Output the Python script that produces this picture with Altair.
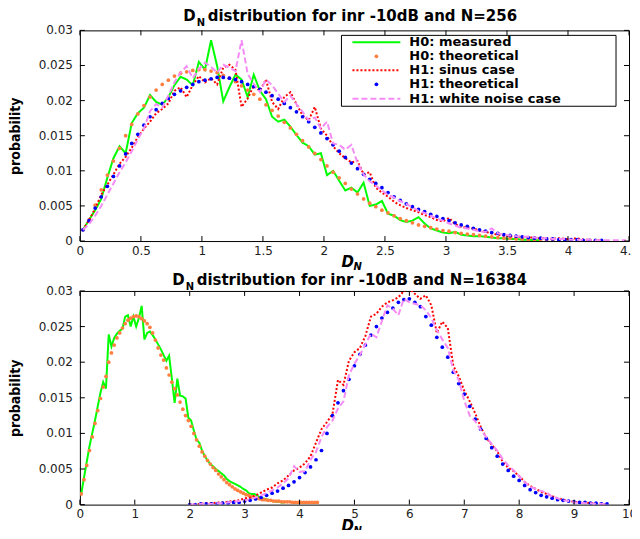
import altair as alt
import pandas as pd

# ---------------- data ----------------
# top panel, N=256 : bin centres start at 0.025, spacing 0.05
top_start, top_step = 0.025, 0.05
top_h0_measured = [0.0016, 0.0030, 0.0044, 0.0060, 0.0090, 0.0118, 0.0135, 0.0125, 0.0168, 0.0182,
                   0.0190, 0.0208, 0.0198, 0.0194, 0.0205, 0.0222, 0.0234, 0.0230, 0.0222, 0.0255,
                   0.0244, 0.0286, 0.0249, 0.0199, 0.0219, 0.0237, 0.0230, 0.0205, 0.0237, 0.0214,
                   0.0202, 0.0177, 0.0170, 0.0173, 0.0163, 0.0151, 0.0140, 0.0135, 0.0123, 0.0125,
                   0.0094, 0.0100, 0.0086, 0.0072, 0.0076, 0.0069, 0.0083, 0.0050, 0.0052, 0.0057,
                   0.0039, 0.0036, 0.0030, 0.0027, 0.0029, 0.0034, 0.0025, 0.0018, 0.0015, 0.0012,
                   0.0011, 0.0013, 0.0009, 0.0008, 0.0007, 0.0007, 0.0006, 0.0005, 0.0004, 0.0004,
                   0.0003, 0.0003, 0.0002, 0.0002, 0.0001, 0.0001]
top_h0_theory = [0.0016, 0.0030, 0.0051, 0.0073, 0.0094, 0.0114, 0.0132, 0.0150, 0.0166, 0.0181,
                 0.0193, 0.0205, 0.0215, 0.0223, 0.0229, 0.0235, 0.0239, 0.0241, 0.0243, 0.0244,
                 0.0244, 0.0242, 0.0240, 0.0236, 0.0232, 0.0227, 0.0221, 0.0215, 0.0209, 0.0202,
                 0.0194, 0.0186, 0.0178, 0.0169, 0.0161, 0.0152, 0.0143, 0.0134, 0.0125, 0.0116,
                 0.0107, 0.0098, 0.0090, 0.0082, 0.0074, 0.0067, 0.0060, 0.0054, 0.0049, 0.0044,
                 0.0040, 0.0036, 0.0032, 0.0029, 0.0026, 0.0023, 0.0021, 0.0019, 0.0017, 0.0015,
                 0.0014, 0.0012, 0.0011, 0.0010, 0.0009, 0.0008, 0.0007, 0.0006, 0.0005, 0.0004,
                 0.0004, 0.0003, 0.0003, 0.0002, 0.0002, 0.0002, 0.0001, 0.0001, 0.0001, 0.0001]
top_h1_sinus = [0.0016, 0.0030, 0.0046, 0.0066, 0.0080, 0.0095, 0.0110, 0.0120, 0.0133, 0.0148,
                0.0160, 0.0170, 0.0182, 0.0188, 0.0196, 0.0214, 0.0219, 0.0205, 0.0222, 0.0235,
                0.0226, 0.0232, 0.0223, 0.0247, 0.0251, 0.0244, 0.0191, 0.0203, 0.0221, 0.0214,
                0.0230, 0.0198, 0.0188, 0.0205, 0.0212, 0.0195, 0.0179, 0.0172, 0.0191, 0.0160,
                0.0150, 0.0135, 0.0125, 0.0118, 0.0112, 0.0114, 0.0095, 0.0098, 0.0076, 0.0069,
                0.0063, 0.0056, 0.0051, 0.0047, 0.0044, 0.0041, 0.0037, 0.0034, 0.0030, 0.0028,
                0.0033, 0.0024, 0.0020, 0.0019, 0.0018, 0.0015, 0.0013, 0.0011, 0.0009, 0.0008,
                0.0007, 0.0006, 0.0006, 0.0005, 0.0005, 0.0004, 0.0004, 0.0003, 0.0004, 0.0003,
                0.0003, 0.0004, 0.0002, 0.0002, 0.0001, 0.0001]
top_h1_theory = [0.0016, 0.0029, 0.0047, 0.0063, 0.0078, 0.0092, 0.0107, 0.0124, 0.0139, 0.0152,
                 0.0165, 0.0177, 0.0187, 0.0196, 0.0203, 0.0209, 0.0214, 0.0219, 0.0223, 0.0227,
                 0.0229, 0.0231, 0.0233, 0.0233, 0.0232, 0.0230, 0.0227, 0.0223, 0.0220, 0.0216,
                 0.0212, 0.0207, 0.0202, 0.0196, 0.0190, 0.0184, 0.0177, 0.0170, 0.0162, 0.0154,
                 0.0146, 0.0137, 0.0128, 0.0119, 0.0111, 0.0103, 0.0095, 0.0088, 0.0082, 0.0076,
                 0.0069, 0.0063, 0.0058, 0.0053, 0.0049, 0.0045, 0.0042, 0.0038, 0.0035, 0.0032,
                 0.0029, 0.0026, 0.0023, 0.0021, 0.0018, 0.0016, 0.0014, 0.0012, 0.0011, 0.0009,
                 0.0008, 0.0007, 0.0006, 0.0005, 0.0004, 0.0004, 0.0003, 0.0003, 0.0002, 0.0002,
                 0.0002, 0.0002, 0.0001, 0.0001, 0.0001, 0.0001]
top_h1_white = [0.0016, 0.0024, 0.0036, 0.0050, 0.0066, 0.0082, 0.0098, 0.0112, 0.0128, 0.0145,
                0.0160, 0.0185, 0.0195, 0.0190, 0.0207, 0.0226, 0.0240, 0.0249, 0.0232, 0.0245,
                0.0254, 0.0248, 0.0240, 0.0251, 0.0247, 0.0242, 0.0286, 0.0238, 0.0224, 0.0212,
                0.0230, 0.0222, 0.0210, 0.0198, 0.0207, 0.0195, 0.0184, 0.0172, 0.0176, 0.0160,
                0.0170, 0.0139, 0.0137, 0.0130, 0.0137, 0.0111, 0.0095, 0.0085, 0.0079, 0.0072,
                0.0066, 0.0062, 0.0057, 0.0053, 0.0048, 0.0043, 0.0040, 0.0036, 0.0032, 0.0029,
                0.0025, 0.0022, 0.0019, 0.0018, 0.0016, 0.0014, 0.0013, 0.0018, 0.0011, 0.0009,
                0.0008, 0.0007, 0.0006, 0.0006, 0.0005, 0.0004, 0.0004, 0.0003, 0.0003, 0.0003,
                0.0002, 0.0002, 0.0002, 0.0002, 0.0001, 0.0001, 0.0001, 0.0001, 0.0001, 0.0001]

# bottom panel, N=16384
bot_h0_start, bot_h0_step = 0.025, 0.05
bot_h0_measured = [0.0015, 0.0038, 0.0060, 0.0082, 0.0100, 0.0118, 0.0138, 0.0157, 0.0172, 0.0163,
                   0.0239, 0.0222, 0.0234, 0.0240, 0.0244, 0.0247, 0.0264, 0.0266, 0.0250, 0.0264,
                   0.0250, 0.0262, 0.0279, 0.0232, 0.0241, 0.0243, 0.0238, 0.0232, 0.0225, 0.0218,
                   0.0210, 0.0202, 0.0209, 0.0177, 0.0143, 0.0177, 0.0153, 0.0152, 0.0149, 0.0122,
                   0.0118, 0.0104, 0.0091, 0.0087, 0.0076, 0.0068, 0.0062, 0.0057, 0.0054, 0.0050,
                   0.0047, 0.0044, 0.0041, 0.0036, 0.0033, 0.0031, 0.0029, 0.0027, 0.0025, 0.0022,
                   0.0020, 0.0016, 0.0015, 0.0015, 0.0013, 0.0010, 0.0009, 0.0008, 0.0007, 0.0006,
                   0.0005, 0.0004, 0.0004, 0.0003, 0.0003]
bot_h0_theory = [0.0015, 0.0035, 0.0055, 0.0076, 0.0095, 0.0114, 0.0132, 0.0149, 0.0165, 0.0180,
                 0.0200, 0.0213, 0.0224, 0.0234, 0.0241, 0.0248, 0.0254, 0.0259, 0.0262, 0.0264,
                 0.0265, 0.0264, 0.0261, 0.0258, 0.0254, 0.0249, 0.0241, 0.0231, 0.0220, 0.0210,
                 0.0203, 0.0192, 0.0182, 0.0172, 0.0163, 0.0154, 0.0144, 0.0134, 0.0125, 0.0118,
                 0.0110, 0.0100, 0.0091, 0.0082, 0.0074, 0.0068, 0.0062, 0.0057, 0.0052, 0.0048,
                 0.0043, 0.0039, 0.0035, 0.0031, 0.0028, 0.0025, 0.0022, 0.0020, 0.0018, 0.0016,
                 0.0014, 0.0013, 0.0011, 0.0010, 0.0009, 0.0008, 0.0007, 0.0007, 0.0006, 0.0006,
                 0.0005, 0.0005, 0.0005, 0.0004, 0.0004, 0.0004, 0.0004, 0.0003, 0.0003, 0.0003,
                 0.0003, 0.0003, 0.0003, 0.0003, 0.0003, 0.0003, 0.0003]
bot_h1_start, bot_h1_step = 2.0, 0.1
bot_h1_sinus = [0.0000, 0.0001, 0.0001, 0.0002, 0.0002, 0.0003, 0.0003, 0.0004, 0.0005, 0.0006,
                0.0009, 0.0010, 0.0013, 0.0017, 0.0021, 0.0024, 0.0030, 0.0034, 0.0041, 0.0048,
                0.0052, 0.0058, 0.0068, 0.0087, 0.0106, 0.0116, 0.0127, 0.0175, 0.0168, 0.0202,
                0.0214, 0.0220, 0.0237, 0.0264, 0.0268, 0.0278, 0.0284, 0.0287, 0.0291, 0.0300,
                0.0303, 0.0296, 0.0289, 0.0294, 0.0280, 0.0241, 0.0257, 0.0248, 0.0195, 0.0180,
                0.0160, 0.0145, 0.0128, 0.0109, 0.0094, 0.0084, 0.0075, 0.0060, 0.0052, 0.0047,
                0.0040, 0.0032, 0.0026, 0.0022, 0.0018, 0.0015, 0.0012, 0.0009, 0.0007, 0.0005,
                0.0004, 0.0003, 0.0003, 0.0002, 0.0002, 0.0001, 0.0001]
bot_h1_theory = [0.0000, 0.0000, 0.0001, 0.0001, 0.0001, 0.0001, 0.0002, 0.0002, 0.0003, 0.0003,
                 0.0005, 0.0006, 0.0008, 0.0010, 0.0013, 0.0016, 0.0019, 0.0023, 0.0027, 0.0032,
                 0.0038, 0.0045, 0.0053, 0.0063, 0.0076, 0.0100, 0.0125, 0.0143, 0.0160, 0.0176,
                 0.0195, 0.0211, 0.0224, 0.0238, 0.0250, 0.0262, 0.0270, 0.0276, 0.0284, 0.0288,
                 0.0289, 0.0284, 0.0278, 0.0264, 0.0252, 0.0235, 0.0221, 0.0207, 0.0186, 0.0170,
                 0.0155, 0.0138, 0.0120, 0.0106, 0.0093, 0.0080, 0.0068, 0.0057, 0.0048, 0.0040,
                 0.0034, 0.0027, 0.0021, 0.0017, 0.0013, 0.0011, 0.0009, 0.0007, 0.0006, 0.0005,
                 0.0004, 0.0003, 0.0003, 0.0002, 0.0002, 0.0001, 0.0001]
bot_h1_white = [0.0000, 0.0000, 0.0001, 0.0001, 0.0001, 0.0002, 0.0002, 0.0003, 0.0004, 0.0005,
                0.0006, 0.0008, 0.0010, 0.0013, 0.0016, 0.0020, 0.0024, 0.0030, 0.0037, 0.0054,
                0.0046, 0.0047, 0.0063, 0.0074, 0.0095, 0.0109, 0.0118, 0.0135, 0.0145, 0.0182,
                0.0198, 0.0210, 0.0225, 0.0240, 0.0235, 0.0258, 0.0280, 0.0275, 0.0266, 0.0289,
                0.0284, 0.0282, 0.0280, 0.0273, 0.0262, 0.0245, 0.0232, 0.0220, 0.0189, 0.0175,
                0.0146, 0.0125, 0.0117, 0.0105, 0.0095, 0.0085, 0.0076, 0.0064, 0.0055, 0.0048,
                0.0040, 0.0032, 0.0025, 0.0022, 0.0019, 0.0017, 0.0011, 0.0009, 0.0006, 0.0005,
                0.0003, 0.0003, 0.0002, 0.0002, 0.0001, 0.0001, 0.0001]

top_xticks = [0, 0.5, 1, 1.5, 2, 2.5, 3, 3.5, 4, 4.5]
bot_xticks = [0, 1, 2, 3, 4, 5, 6, 7, 8, 9, 10]
yticks = [0, 0.005, 0.01, 0.015, 0.02, 0.025, 0.03]
ytick_labels = ["0", "0.005", "0.01", "0.015", "0.02", "0.025", "0.03"]

legend_labels = ["H0: measured", "H0: theoretical", "H1: sinus case",
                 "H1: theoretical", "H1: white noise case"]
top_title = "distribution for inr -10dB and N=256"
bot_title = "distribution for inr -10dB and N=16384"

GREEN, ORANGE, RED, BLUE, PINK = "#00ff00", "#ff7f3f", "#ff0000", "#0000ff", "#f58cf5"
LABEL_FONT = "DejaVu Sans"
W = 550


def frame(start, step, vals):
    return pd.DataFrame({"d": [round(start + step * i, 4) for i in range(len(vals))], "p": vals})


def panel(series, xmax, xticks, height, title, title_x0, title_y, dn_y, legend=False):
    xs = alt.Scale(domain=[0, xmax], nice=False, zero=False)
    ys = alt.Scale(domain=[0, 0.03], nice=False, zero=False)
    x = alt.X("d:Q", scale=xs, axis=alt.Axis(values=xticks, labelExpr="datum.value + ''", ticks=False,
                                             domain=False, grid=False, title=None, labelPadding=4,
                                             labelOverlap=False, labelFlush=False,
                                             labelFont=LABEL_FONT, labelFontSize=12, labelColor="#222"))
    y = alt.Y("p:Q", scale=ys, axis=alt.Axis(values=yticks, labels=False, ticks=False,
                                             domain=False, grid=False, title="probability",
                                             titleFont="Liberation Sans Narrow, DejaVu Sans Condensed, Liberation Sans",
                                             titleFontSize=14, titleFontWeight="bold", titlePadding=57))
    g, o, r, b, pk = series
    layers = [
        alt.Chart(g).mark_line(color=GREEN, strokeWidth=2, clip=True).encode(x=x, y=y),
        alt.Chart(o).mark_circle(color=ORANGE, size=14, opacity=1, clip=True).encode(x="d:Q", y="p:Q"),
        alt.Chart(r).mark_line(color=RED, strokeWidth=2, strokeDash=[2, 2], clip=True).encode(x="d:Q", y="p:Q"),
        alt.Chart(b).mark_circle(color=BLUE, size=14, opacity=1, clip=True).encode(x="d:Q", y="p:Q"),
        alt.Chart(pk).mark_line(color=PINK, strokeWidth=2, strokeDash=[6, 3], clip=True).encode(x="d:Q", y="p:Q"),
    ]
    # inward tick marks on all four sides (MATLAB box style)
    xt = pd.DataFrame({"d": xticks})
    yt = pd.DataFrame({"p": yticks, "lab": ytick_labels})
    tick = dict(color="black", strokeWidth=1)
    layers += [
        alt.Chart(xt).mark_rule(**tick).encode(x="d:Q", y=alt.value(height), y2=alt.value(height - 5)),
        alt.Chart(xt).mark_rule(**tick).encode(x="d:Q", y=alt.value(0), y2=alt.value(5)),
        alt.Chart(yt).mark_rule(**tick).encode(y="p:Q", x=alt.value(0), x2=alt.value(5)),
        alt.Chart(yt).mark_rule(**tick).encode(y="p:Q", x=alt.value(W - 5), x2=alt.value(W)),
        # y tick labels
        alt.Chart(yt).mark_text(align="right", baseline="middle", font=LABEL_FONT, fontSize=12,
                                color="#222").encode(y="p:Q", x=alt.value(-7), text="lab:N"),
    ]
    # title with subscript N
    tdf = pd.DataFrame({"t": [title]})
    tfont = dict(font=LABEL_FONT, fontWeight="bold", color="black")
    layers += [
        alt.Chart(tdf).mark_text(align="right", baseline="alphabetic", fontSize=15, **tfont).encode(
            x=alt.value(title_x0 - 12), y=alt.value(title_y), text=alt.value("D")),
        alt.Chart(tdf).mark_text(align="left", baseline="alphabetic", fontSize=10, **tfont).encode(
            x=alt.value(title_x0 - 11), y=alt.value(title_y + 5), text=alt.value("N")),
        alt.Chart(tdf).mark_text(align="left", baseline="alphabetic", fontSize=15, **tfont).encode(
            x=alt.value(title_x0), y=alt.value(title_y), text="t:N"),
    ]
    # x axis label D_N
    lfont = dict(font=LABEL_FONT, fontWeight="bold", fontStyle="italic", color="black")
    layers += [
        alt.Chart(tdf).mark_text(align="left", baseline="alphabetic", fontSize=15, **lfont).encode(
            x=alt.value(262), y=alt.value(height + dn_y), text=alt.value("D")),
        alt.Chart(tdf).mark_text(align="left", baseline="alphabetic", fontSize=10, **lfont).encode(
            x=alt.value(274), y=alt.value(height + dn_y + 3), text=alt.value("N")),
    ]
    if legend:
        one = pd.DataFrame({"t": legend_labels[:1]})
        layers.append(alt.Chart(one).mark_rect(fill="white", stroke="black", strokeWidth=1).encode(
            x=alt.value(262), x2=alt.value(537), y=alt.value(5), y2=alt.value(76)))
        rows = [12, 26, 40, 54, 68.5]
        styles = [("line", GREEN, None), ("dot", ORANGE, None), ("line", RED, [2, 2]),
                  ("dot", BLUE, None), ("line", PINK, [6, 3])]
        for lab, yr, (kind, col, dash) in zip(legend_labels, rows, styles):
            ldf = pd.DataFrame({"t": [lab]})
            if kind == "line":
                kw = dict(color=col, strokeWidth=2)
                if dash:
                    kw["strokeDash"] = dash
                layers.append(alt.Chart(ldf).mark_rule(**kw).encode(
                    x=alt.value(273), x2=alt.value(321), y=alt.value(yr)))
            else:
                layers.append(alt.Chart(ldf).mark_circle(color=col, size=14, opacity=1).encode(
                    x=alt.value(297), y=alt.value(yr)))
            layers.append(alt.Chart(ldf).mark_text(align="left", baseline="middle", font=LABEL_FONT,
                                                   fontSize=13, fontWeight="bold", color="black").encode(
                x=alt.value(330), y=alt.value(yr), text="t:N"))
    return alt.layer(*layers).properties(width=W, height=height)


top = panel([frame(top_start, top_step, top_h0_measured), frame(top_start, top_step, top_h0_theory),
             frame(top_start, top_step, top_h1_sinus), frame(top_start, top_step, top_h1_theory),
             frame(top_start, top_step, top_h1_white)],
            4.5, top_xticks, 211, top_title, 128, -9, 26, legend=True)
bot = panel([frame(bot_h0_start, bot_h0_step, bot_h0_measured), frame(bot_h0_start, bot_h0_step, bot_h0_theory),
             frame(bot_h1_start, bot_h1_step, bot_h1_sinus), frame(bot_h1_start, bot_h1_step, bot_h1_theory),
             frame(bot_h1_start, bot_h1_step, bot_h1_white)],
            10, bot_xticks, 214, bot_title, 117, -6, 26)

chart = alt.vconcat(top, bot, spacing=50, bounds="flush").properties(
    padding={"left": 0, "top": 0, "right": -8, "bottom": -7}, background="white"
).configure_view(stroke="black", strokeWidth=1)

chart.save("out.html", embed_options={"renderer": "svg", "actions": False})
